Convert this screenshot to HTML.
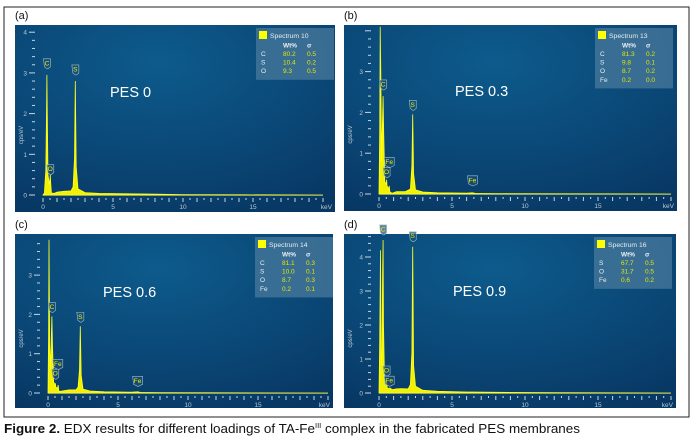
<!DOCTYPE html>
<html><head><meta charset="utf-8"><style>
html,body{margin:0;padding:0;background:#fff;width:692px;height:439px;overflow:hidden}
svg{display:block;font-family:"Liberation Sans",sans-serif}
</style></head><body>
<svg id="fig" width="692" height="439" viewBox="0 0 692 439">
<defs>
<radialGradient id="bgGrad" cx="0.45" cy="0.2" r="0.9">
<stop offset="0" stop-color="#0d5b8c"/><stop offset="0.6" stop-color="#0a4675"/><stop offset="1" stop-color="#083763"/>
</radialGradient>
</defs>
<rect x="4" y="7" width="685" height="410" fill="none" stroke="#222" stroke-width="1"/>
<text x="4" y="433" font-size="12.5" fill="#111" textLength="576" lengthAdjust="spacingAndGlyphs"><tspan font-weight="bold">Figure 2.</tspan> EDX results for different loadings of TA-Fe<tspan font-size="7" dy="-5">III</tspan><tspan dy="5"> complex in the fabricated PES membranes</tspan></text>
</svg>
<script>
// ---- data ----
const panelLetters = ["(a)","(b)","(c)","(d)"];
const panelTitles = ["PES 0","PES 0.3","PES 0.6","PES 0.9"];
const spectrumNames = ["Spectrum 10","Spectrum 13","Spectrum 14","Spectrum 16"];
const elementsA = ["C","S","O"]; const wtA = ["80.2","10.4","9.3"]; const sigA = ["0.5","0.2","0.5"];
const elementsB = ["C","S","O","Fe"]; const wtB = ["81.3","9.8","8.7","0.2"]; const sigB = ["0.2","0.1","0.2","0.0"];
const elementsC = ["C","S","O","Fe"]; const wtC = ["81.1","10.0","8.7","0.2"]; const sigC = ["0.3","0.1","0.3","0.1"];
const elementsD = ["S","O","Fe"]; const wtD = ["67.7","31.7","0.6"]; const sigD = ["0.5","0.5","0.2"];
// spectra: energy (keV) and counts (cps/eV)
const energyA = [0,0.1,0.2,0.26,0.28,0.30,0.36,0.45,0.5,0.52,0.55,0.6,0.8,1.0,1.5,2.0,2.15,2.25,2.31,2.37,2.5,3,4,6,8,10,14,20];
const countsA = [0,0.05,0.6,2.2,2.95,2.2,0.5,0.25,0.4,0.5,0.3,0.05,0.04,0.07,0.09,0.1,0.2,0.9,2.8,0.7,0.15,0.06,0.04,0.03,0.02,0.01,0.005,0];
const energyB = [0,0.05,0.08,0.12,0.18,0.24,0.28,0.32,0.4,0.5,0.52,0.55,0.65,0.7,0.75,0.9,1.2,1.8,2.15,2.25,2.31,2.37,2.5,3,4,6,6.4,6.6,8,12,20];
const countsB = [0,1.5,4.1,3.0,0.8,1.8,2.4,1.5,0.3,0.25,0.35,0.2,0.12,0.2,0.05,0.02,0.06,0.06,0.12,0.7,1.95,0.5,0.1,0.05,0.03,0.02,0.03,0.015,0.01,0.005,0];
const energyC = [0,0.04,0.07,0.12,0.18,0.24,0.28,0.32,0.4,0.48,0.52,0.56,0.68,0.72,0.78,1.0,1.5,2.0,2.15,2.25,2.31,2.37,2.5,3,4,6,6.4,6.6,8,12,20];
const countsC = [0,1.5,3.9,1.2,0.6,1.5,1.95,1.2,0.3,0.2,0.25,0.15,0.12,0.2,0.04,0.05,0.08,0.08,0.15,0.6,1.7,0.45,0.1,0.05,0.03,0.02,0.03,0.015,0.01,0.005,0];
const energyD = [0,0.05,0.1,0.15,0.2,0.25,0.28,0.31,0.38,0.5,0.52,0.56,0.7,0.75,0.9,1.2,1.5,2.0,2.15,2.25,2.31,2.37,2.5,3,4,6,6.4,8,12,20];
const countsD = [0,1.5,4.2,1.0,0.8,3.5,4.5,2.0,0.4,0.3,0.35,0.15,0.12,0.15,0.1,0.12,0.13,0.12,0.25,1.2,4.3,0.8,0.2,0.08,0.05,0.03,0.03,0.02,0.008,0];
// peak label markers
const markElA = ["C","O","S"]; const markEA = [0.28,0.52,2.31]; const markYA = [3.1,0.5,2.95];
const markElB = ["C","Fe","O","S","Fe"]; const markEB = [0.28,0.7,0.52,2.31,6.4]; const markYB = [2.55,0.65,0.4,2.05,0.2];
const markElC = ["C","Fe","O","S","Fe"]; const markEC = [0.28,0.7,0.52,2.31,6.4]; const markYC = [2.05,0.6,0.35,1.8,0.17];
const markElD = ["C","S","O","Fe"]; const markED = [0.28,2.31,0.52,0.7]; const markYD = [4.65,4.45,0.5,0.2];
const yTicksA = [0,1,2,3,4], yTicksB=[0,1,2,3], yTicksC=[0,1,2,3], yTicksD=[0,1,2,3,4];
const xTicks = [0,5,10,15];

// ---- layout (not data) ----
const panels = [
 {bx:15,by:25,bw:320,bh:187,x0:43,kx:14,y0:195,ky:40.7,ymax:4.1,lx:15,ly:19,tx:110,ty:97,lgx:256,E:energyA,C:countsA,el:elementsA,wt:wtA,sg:sigA,me:markElA,mx:markEA,my:markYA,yt:yTicksA},
 {bx:344,by:25,bw:333,bh:186,x0:379,kx:14.6,y0:194,ky:40.8,ymax:4.1,lx:344,ly:19,tx:455,ty:96,lgx:595,E:energyB,C:countsB,el:elementsB,wt:wtB,sg:sigB,me:markElB,mx:markEB,my:markYB,yt:yTicksB},
 {bx:15,by:234,bw:318,bh:174,x0:48,kx:14,y0:393,ky:39.3,ymax:3.95,lx:15,ly:228,tx:103,ty:297,lgx:255,E:energyC,C:countsC,el:elementsC,wt:wtC,sg:sigC,me:markElC,mx:markEC,my:markYC,yt:yTicksC},
 {bx:344,by:234,bw:332,bh:174,x0:379,kx:14.6,y0:393,ky:34,ymax:4.6,lx:344,ly:228,tx:453,ty:296,lgx:594,E:energyD,C:countsD,el:elementsD,wt:wtD,sg:sigD,me:markElD,mx:markED,my:markYD,yt:yTicksD}
];
const NS="http://www.w3.org/2000/svg";
const svg=document.getElementById("fig");
function mk(tag,attrs,parent){const e=document.createElementNS(NS,tag);for(const k in attrs)e.setAttribute(k,attrs[k]);(parent||svg).appendChild(e);return e;}
panels.forEach((p,i)=>{
  const g=mk("g",{});
  
  
  const X=e=>p.x0+e*p.kx;
  const Y=c=>p.y0-Math.min(c,(p.y0-p.by)/p.ky+0.2)*p.ky;
  const lab=mk("text",{x:p.lx,y:p.ly,"font-size":"11",fill:"#111"},g);lab.textContent=panelLetters[i];
  
  
  const bg=mk("rect",{x:p.bx,y:p.by,width:p.bw,height:p.bh,fill:"url(#bgGrad)"},g);
  
  
  const clip=mk("clipPath",{id:"clip"+i},g);mk("rect",{x:p.bx,y:p.by,width:p.bw,height:p.bh},clip);
  const ax=p.x0-8;
  for(let v=0;v<=p.ymax+1e-6;v+=0.2){
    const major=Math.abs(v-Math.round(v))<1e-6;
    mk("line",{x1:major?ax-6:ax-3,x2:ax,y1:Y(v),y2:Y(v),stroke:"#c8d6e2","stroke-width":1},g);
  }
  p.yt.forEach(t=>{const tt=mk("text",{x:ax-8,y:Y(t)+2.5,"font-size":"6.5",fill:"#b8c8d6","text-anchor":"end"},g);tt.textContent=t;
    
    });
  const yl=mk("text",{transform:`translate(${p.bx+8},${(p.by+p.y0)/2+25}) rotate(-90)`,"font-size":"6",fill:"#b8c8d6","text-anchor":"middle"},g);yl.textContent="cps/eV";
  
  
  mk("line",{x1:X(0),x2:X(20),y1:p.y0+0.5,y2:p.y0+0.5,stroke:"#8aa6bd","stroke-width":0.6},g);
  for(let e=0;e<=20+1e-6;e+=0.5){
    const major=Math.abs(e-Math.round(e))<1e-6;
    mk("line",{x1:X(e),x2:X(e),y1:p.y0+3,y2:p.y0+(major?7:5),stroke:"#c8d6e2","stroke-width":1},g);
  }
  xTicks.forEach(t=>{const tt=mk("text",{x:X(t),y:p.y0+14,"font-size":"6.5",fill:"#b8c8d6","text-anchor":"middle"},g);tt.textContent=t;
    
    });
  const kl=mk("text",{x:p.bx+p.bw-3,y:p.y0+14,"font-size":"6.5",fill:"#b8c8d6","text-anchor":"end"},g);kl.textContent="keV";
  
  
  let d="M"+X(p.E[0])+","+p.y0;
  p.E.forEach((e,k)=>{d+=" L"+X(e).toFixed(1)+","+Y(p.C[k]).toFixed(1);});
  d+=" L"+X(p.E[p.E.length-1])+","+p.y0+" Z";
  const sp=mk("path",{d:d,fill:"#f2f200",stroke:"#ffff20","stroke-width":0.8,"clip-path":`url(#clip${i})`},g);
  
  
  p.me.forEach((el,k)=>{
    const cx=X(p.mx[k]), cy=Y(p.my[k]);
    const w=el.length>1?10:7;
    const m=mk("g",{},g);
    
    
    mk("path",{d:`M${cx-w/2},${cy-10} h${w} v8 l-${w/2-1},2 l-1,0 l-${w/2-1},-2 z`,fill:"#1d4f73","fill-opacity":0.7,stroke:"#9cc0cf","stroke-width":0.6},m);
    const t=mk("text",{x:cx,y:cy-3.5,"font-size":"6.5",fill:"#f0f000","text-anchor":"middle"},m);t.textContent=el;
  });
  const tt=mk("text",{x:p.tx,y:p.ty,"font-size":"14.5",fill:"#ffffff"},g);tt.textContent=panelTitles[i];
  
  
  const lg=mk("g",{},g);
  
  
  const lh=26+p.el.length*8.6;
  mk("rect",{x:p.lgx,y:p.by+3,width:78,height:lh,fill:"#4a7a9c","fill-opacity":0.75},lg);
  mk("rect",{x:p.lgx+3,y:p.by+6,width:8,height:8,fill:"#ffff00"},lg);
  const sn=mk("text",{x:p.lgx+14,y:p.by+13,"font-size":"6.8",fill:"#e8eef4"},lg);sn.textContent=spectrumNames[i];
  const h1=mk("text",{x:p.lgx+27,y:p.by+22.5,"font-size":"6.5","font-weight":"bold",fill:"#e8eef4"},lg);h1.textContent="Wt%";
  const h2=mk("text",{x:p.lgx+51,y:p.by+22.5,"font-size":"6.5","font-weight":"bold",fill:"#e8eef4"},lg);h2.textContent="σ";
  p.el.forEach((el,k)=>{
    const yy=p.by+31+k*8.6;
    const a=mk("text",{x:p.lgx+5,y:yy,"font-size":"6.5",fill:"#e8eef4"},lg);a.textContent=el;
    const b=mk("text",{x:p.lgx+27,y:yy,"font-size":"6.5",fill:"#e6e600"},lg);b.textContent=p.wt[k];
    const c=mk("text",{x:p.lgx+51,y:yy,"font-size":"6.5",fill:"#e6e600"},lg);c.textContent=p.sg[k];
  });
});
</script>
</body></html>
